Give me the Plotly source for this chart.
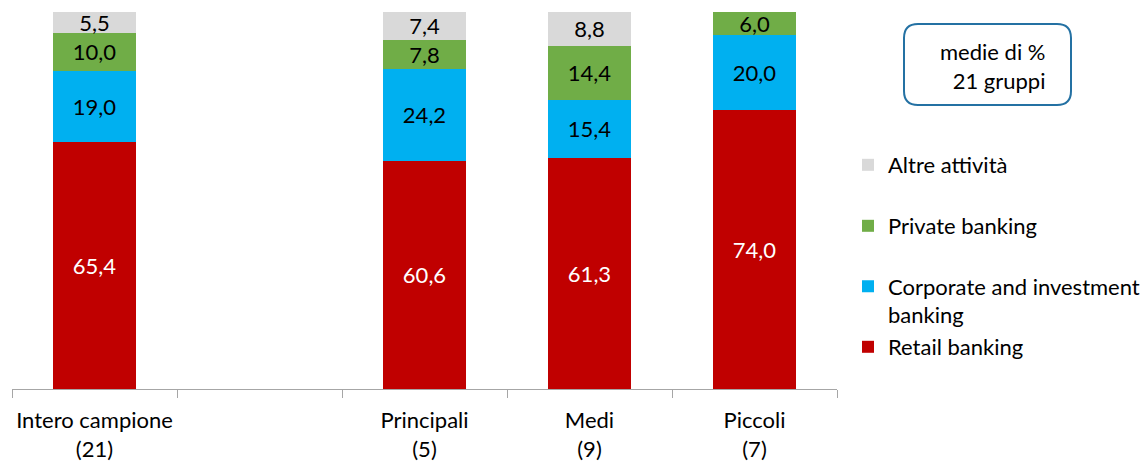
import plotly.graph_objects as go

categories = ["Intero campione<br>(21)", " ", "Principali<br>(5)", "Medi<br>(9)", "Piccoli<br>(7)"]
retail = [65.4, None, 60.6, 61.3, 74.0]
corporate = [19.0, None, 24.2, 15.4, 20.0]
private = [10.0, None, 7.8, 14.4, 6.0]
altre = [5.5, None, 7.4, 8.8, 0.0]

series_names = ["Retail banking", "Corporate and investment<br>banking", "Private banking", "Altre attività"]
series_values = [retail, corporate, private, altre]
colors = ["#C00000", "#00B0F0", "#70AD47", "#D9D9D9"]
text_colors = ["white", "black", "black", "black"]
legend_ids = ["legend4", "legend3", "legend2", "legend"]

FONT = "Lato"
FS = 22
W, H = 1147, 461
L, R, T, B = 12, 310, 12, 72
PW, PH = W - L - R, H - T - B


def px_x(px):
    return (px - L) / PW


def px_y(py):
    return (H - B - py) / PH


def fmt(v):
    if v is None or v == 0:
        return ""
    return f"{v:.1f}".replace(".", ",")


fig = go.Figure()
for name, vals, col, tcol, lg in zip(series_names, series_values, colors, text_colors, legend_ids):
    fig.add_trace(go.Bar(
        x=categories, y=vals, name=name, marker=dict(color=col, line=dict(width=0)),
        width=0.5, text=[fmt(v) for v in vals], textposition="inside",
        insidetextanchor="middle", textangle=0, constraintext="none",
        textfont=dict(family=FONT, size=FS, color=tcol),
        legend=lg, hoverinfo="skip", showlegend=True,
    ))

legend_y = {"legend": 165, "legend2": 226, "legend3": 301, "legend4": 347}
legend_x = px_x(848)
leg_common = dict(xanchor="left", yanchor="middle", bgcolor="rgba(0,0,0,0)",
                  font=dict(family=FONT, size=FS, color="black"), borderwidth=0)

# rounded box
x0, x1, y0, y1, r = 904, 1071, 24, 105, 14
path = (f"M {px_x(x0 + r)},{px_y(y0)} L {px_x(x1 - r)},{px_y(y0)} "
        f"Q {px_x(x1)},{px_y(y0)} {px_x(x1)},{px_y(y0 + r)} "
        f"L {px_x(x1)},{px_y(y1 - r)} Q {px_x(x1)},{px_y(y1)} {px_x(x1 - r)},{px_y(y1)} "
        f"L {px_x(x0 + r)},{px_y(y1)} Q {px_x(x0)},{px_y(y1)} {px_x(x0)},{px_y(y1 - r)} "
        f"L {px_x(x0)},{px_y(y0 + r)} Q {px_x(x0)},{px_y(y0)} {px_x(x0 + r)},{px_y(y0)} Z")

fig.update_layout(
    width=W, height=H,
    margin=dict(l=L, r=R, t=T, b=B, autoexpand=False),
    barmode="stack",
    showlegend=True,
    plot_bgcolor="white", paper_bgcolor="white",
    font=dict(family=FONT, size=FS, color="black"),
    xaxis=dict(
        type="category", categoryorder="array", categoryarray=categories,
        showline=True, linecolor="#A6A6A6", linewidth=1,
        ticks="outside", tickson="boundaries", ticklen=8, tickcolor="#A6A6A6",
        ticklabelstandoff=12, tickangle=0, automargin=False,
        showgrid=False, zeroline=False, fixedrange=True,
        tickfont=dict(family=FONT, size=FS, color="black"),
    ),
    yaxis=dict(range=[0, 100], visible=False, fixedrange=True, automargin=False),
    legend=dict(x=legend_x, y=px_y(legend_y["legend"]), **leg_common),
    legend2=dict(x=legend_x, y=px_y(legend_y["legend2"]), **leg_common),
    legend3=dict(x=legend_x, y=px_y(legend_y["legend3"]), valign="top", **leg_common),
    legend4=dict(x=legend_x, y=px_y(legend_y["legend4"]), **leg_common),
    shapes=[dict(type="path", xref="paper", yref="paper", path=path,
                 line=dict(color="#2471A3", width=2), fillcolor="rgba(0,0,0,0)")],
    annotations=[dict(xref="paper", yref="paper", x=px_x(1047), y=px_y(66),
                      xanchor="right", yanchor="middle", align="right", showarrow=False,
                      text="medie di %<br>21 gruppi",
                      font=dict(family=FONT, size=FS, color="black"))],
)

fig.write_html("out.html", config={"displayModeBar": False},
               post_script="document.body.style.margin='0';")
